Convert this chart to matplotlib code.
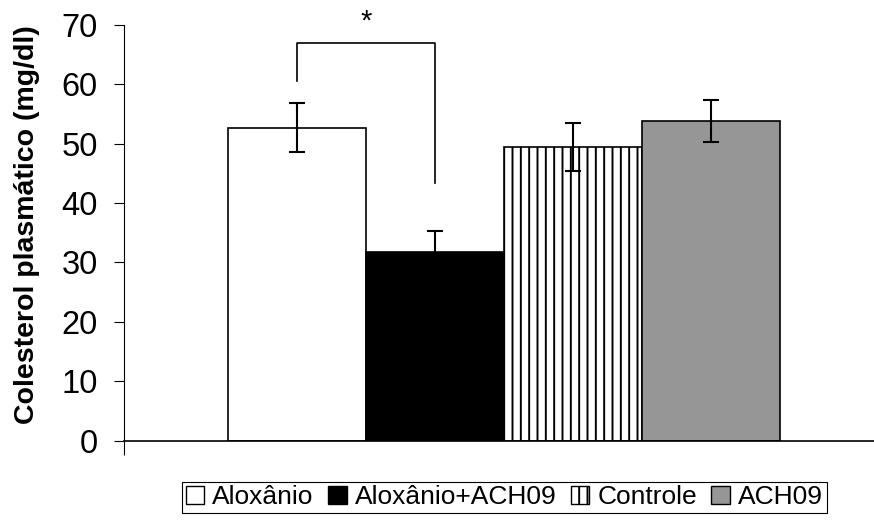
import numpy as np
import matplotlib.pyplot as plt
from matplotlib.patches import Patch

plt.rcParams['font.family'] = ['Liberation Sans', 'DejaVu Sans']
plt.rcParams['hatch.linewidth'] = 1.4
plt.rcParams['hatch.color'] = '#222222'

# dados: colesterol plasmatico (mg/dl)
grupos = ['Aloxânio', 'Aloxânio+ACH09', 'Controle', 'ACH09']
medias = [52.7, 31.8, 49.4, 53.8]
erros = [4.2, 3.5, 4.0, 3.5]
cores = ['white', 'black', 'white', '#969696']
hachuras = ['', '', '||', '']

# colchete de significancia entre Aloxânio e Aloxânio+ACH09
sig_par = (0, 1)
sig_topo = 66.9
sig_pontas = (60.5, 43.4)

fig = plt.figure(figsize=(8.74, 5.2), dpi=100)
ax = fig.add_axes([0.1422, 0.1525, 0.8578, 0.80])

x = np.arange(len(grupos))
barras = ax.bar(x, medias, width=1.0, color=cores, edgecolor='black',
                linewidth=1.2, hatch=hachuras, zorder=2)
ax.errorbar(x, medias, yerr=erros, fmt='none', ecolor='black',
            elinewidth=1.5, capsize=6, capthick=1.5, zorder=3)

# colchete + asterisco
xa, xb = sig_par
ax.plot([xa, xa, xb, xb], [sig_pontas[0], sig_topo, sig_topo, sig_pontas[1]],
        color='black', linewidth=1.2, clip_on=False)
ax.text((xa + xb) / 2, 70.6, '*', ha='center', va='center', fontsize=21,
        clip_on=False)

xmin, xmax = -1.251, 4.181
ax.set_xlim(xmin, xmax)
ax.set_ylim(0, 70)
ax.set_yticks(range(0, 71, 10))
ax.tick_params(axis='y', direction='out', length=7, width=0.8,
               labelsize=23.5, pad=12)
ax.set_xticks([xmin])
ax.set_xticklabels([''])
ax.tick_params(axis='x', direction='out', length=10, width=0.8)

for s in ['top', 'right']:
    ax.spines[s].set_visible(False)
ax.spines['left'].set_linewidth(0.8)
ax.spines['bottom'].set_linewidth(1.2)

ax.set_ylabel('Colesterol plasmático (mg/dl)', fontsize=20.5, fontweight='bold')
ax.yaxis.set_label_coords(-0.113, 0.52)

handles = [Patch(facecolor=c, edgecolor='black', hatch=h, linewidth=1.0)
           for c, h in zip(cores, hachuras)]
leg = fig.legend(handles, grupos, loc='center', ncol=4,
                 bbox_to_anchor=(0.577, 0.0433), fontsize=19,
                 handlelength=0.7, handleheight=0.7, handletextpad=0.3,
                 columnspacing=0.55, borderpad=0.15, fancybox=False,
                 edgecolor='black', framealpha=1)
leg.get_frame().set_linewidth(0.8)

fig.savefig('out.png', dpi=100)
